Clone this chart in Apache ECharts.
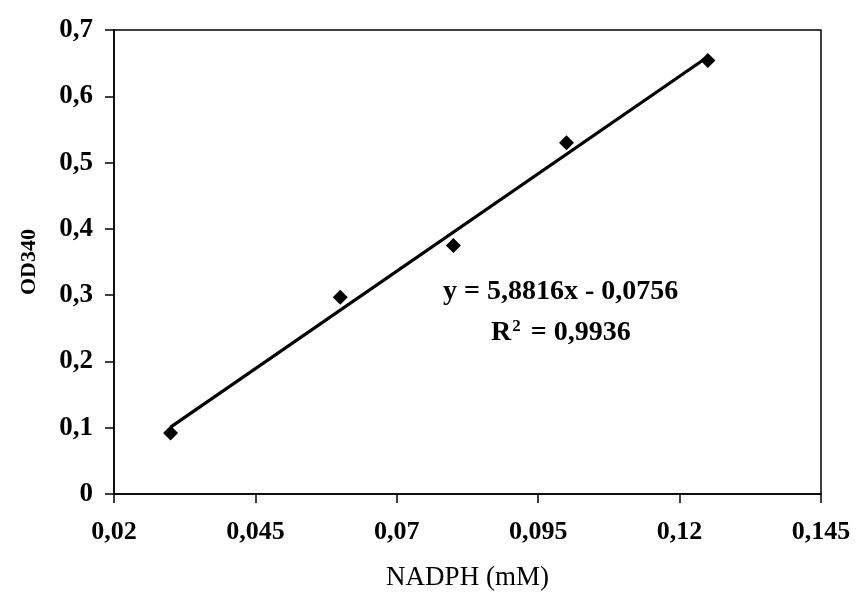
<!DOCTYPE html>
<html>
<head>
<meta charset="utf-8">
<script src="https://cdn.jsdelivr.net/npm/echarts@6/dist/echarts.min.js"></script>
<style>html,body{margin:0;padding:0;background:#fff;}#c{width:856px;height:596px;}</style>
</head>
<body>
<div id="c"></div>
<script>
// Data
const nadph = [0.03, 0.06, 0.08, 0.10, 0.125];
const od340 = [0.092, 0.297, 0.375, 0.530, 0.654];
// Trendline as printed on the chart
const slope = 5.8816;
const intercept = -0.0756;
const eqText = 'y = 5,8816x - 0,0756';
const r2Text = '0,9936';
const xTicks = { min: 0.02, max: 0.145, interval: 0.025 };
const yTicks = { min: 0, max: 0.7, interval: 0.1 };

const points = nadph.map((x, i) => [x, od340[i]]);
const xs = [Math.min(...nadph), Math.max(...nadph)];
const trend = xs.map(x => [x, slope * x + intercept]);
const fmt = v => String(+v.toFixed(4)).replace('.', ',');

const chart = echarts.init(document.getElementById('c'));
chart.setOption({
  backgroundColor: '#ffffff',
  animation: false,
  grid: { left: 114, right: 35, top: 30, bottom: 101, show: true, borderColor: '#000', borderWidth: 1.5, backgroundColor: 'transparent' },
  xAxis: {
    type: 'value', min: xTicks.min, max: xTicks.max, interval: xTicks.interval,
    name: 'NADPH (mM)', nameLocation: 'middle', nameGap: 70,
    nameTextStyle: { fontFamily: 'Liberation Serif', fontSize: 27, color: '#000' },
    axisLine: { show: true, lineStyle: { color: '#000', width: 1.5 } },
    axisTick: { show: true, inside: false, length: 9, lineStyle: { color: '#000', width: 1.5 } },
    axisLabel: { formatter: fmt, margin: 25, fontFamily: 'Liberation Serif', fontWeight: 'bold', fontSize: 26, color: '#000' },
    splitLine: { show: false }
  },
  yAxis: {
    type: 'value', min: yTicks.min, max: yTicks.max, interval: yTicks.interval,
    name: 'OD340', nameLocation: 'middle', nameGap: 74,
    nameTextStyle: { fontFamily: 'Liberation Serif', fontWeight: 'bold', fontSize: 22, color: '#000' },
    axisLine: { show: true, lineStyle: { color: '#000', width: 1.5 } },
    axisTick: { show: true, inside: false, length: 9, lineStyle: { color: '#000', width: 1.5 } },
    axisLabel: { formatter: fmt, margin: 21, fontFamily: 'Liberation Serif', fontWeight: 'bold', fontSize: 27, color: '#000' },
    splitLine: { show: false }
  },
  series: [
    { type: 'line', data: trend, showSymbol: false, symbol: 'none', lineStyle: { color: '#000', width: 3.2 }, z: 2 },
    { type: 'scatter', data: points, symbol: 'diamond', symbolSize: 15, itemStyle: { color: '#000', opacity: 1 }, z: 3 }
  ],
  graphic: [
    { type: 'text', left: 443, top: 278, style: { text: eqText, font: 'bold 28px "Liberation Serif"', fill: '#000' } },
    { type: 'text', left: 491, top: 318, style: {
      text: '{r|R}{s|2}{r| = ' + r2Text + '}',
      rich: { r: { font: 'bold 28px "Liberation Serif"', fill: '#000', verticalAlign: 'bottom' },
              s: { font: 'bold 17px "Liberation Serif"', fill: '#000', verticalAlign: 'top', padding: [0, 3, 12, 1] } },
      fill: '#000' } }
  ]
});
</script>
</body>
</html>
